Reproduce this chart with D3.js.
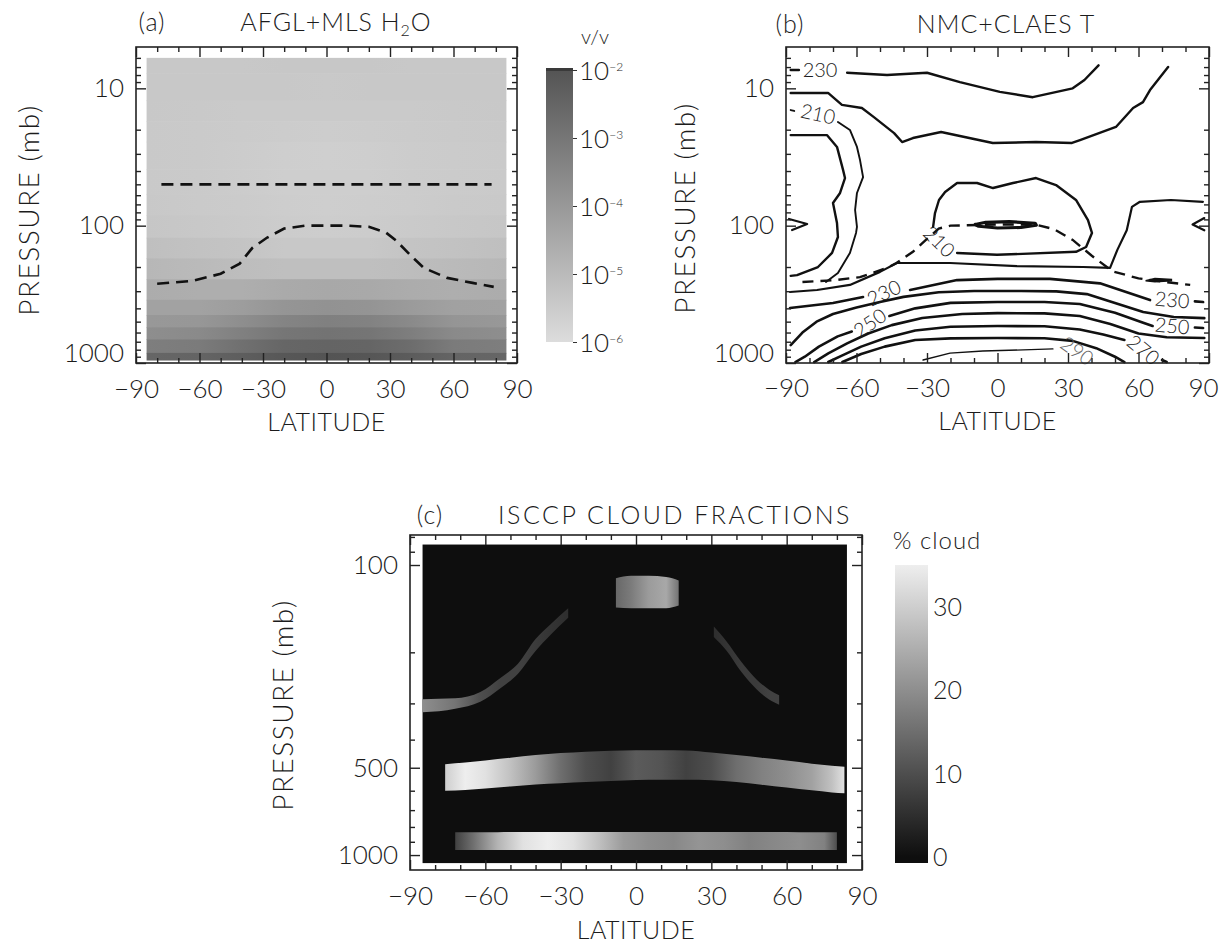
<!DOCTYPE html>
<html><head><meta charset="utf-8">
<script src="https://cdn.jsdelivr.net/npm/d3@7"></script>
<style>
body{margin:0;background:#fff;}
svg text{font-family:Lato,"Open Sans","DejaVu Sans",sans-serif;font-weight:300;fill:#1c1c1c;}
.tick text{font-size:26px;}
.axt{font-size:28px;letter-spacing:1.5px;}
.lat{font-size:25px;letter-spacing:0.5px;}
.ttl{font-size:25px;letter-spacing:1px;}
.cbl{font-size:20px;}
.cbc text{font-size:25px;}
.clab{font-size:20px;}
</style></head><body>
<svg id="fig" width="1222" height="945"></svg>
<script>
// ================= DATA =================
const latTicks = [-90,-60,-30,0,30,60,90];
const latTickLabels = ["\u221290","\u221260","\u221230","0","30","60","90"];
const latMinorTicks = [-80,-70,-50,-40,-20,-10,10,20,40,50,70,80];
const pMajorTop = [10,100,1000];
const pMinorTop = [6,7,8,9,20,30,40,50,60,70,80,90,200,300,400,500,600,700,800,900];
const pMajorBottom = [100,500,1000];
const pMinorBottom = [80,90,200,300,400,600,700,800,900];

// ---- panel (a): H2O mixing ratio, ppmv ----
const h2oLats = [-85,-60,-40,-20,0,20,40,60,85];
const h2oLevels = [6,10,15,20,30,50,70,100,150,200,300,400,500,600,750,950];
const h2oPPMV = [
  [4.0,4.0,4.0,4.2,4.2,4.2,4.0,4.0,4.0],
  [4.0,3.8,3.8,3.8,3.6,3.8,3.8,3.8,4.0],
  [3.8,3.6,3.5,3.4,3.3,3.4,3.5,3.6,3.8],
  [3.6,3.4,3.2,3.0,2.8,2.9,3.2,3.4,3.6],
  [3.6,3.3,3.0,2.6,2.4,2.5,2.9,3.2,3.5],
  [3.6,3.3,3.0,2.6,2.5,2.5,2.9,3.2,3.5],
  [3.8,3.4,3.1,2.8,2.6,2.7,3.0,3.3,3.6],
  [4.5,4.0,3.5,3.0,2.8,2.9,3.4,4.0,4.5],
  [7,6,5,4,3.8,4,5,6,7],
  [12,10,8,7,7,7,8,10,12],
  [25,22,22,30,35,32,25,22,25],
  [50,50,70,120,150,130,80,55,50],
  [100,110,200,400,500,450,250,120,100],
  [200,250,500,1000,1200,1100,600,250,200],
  [600,700,1500,3000,3500,3200,1800,700,600],
  [3000,3500,5000,8000,10000,9000,6000,3500,3000]
];
const h2oColorTicks = [1,10,100,1000,10000];          // ppmv
const h2oColorExp = ["\u22126","\u22125","\u22124","\u22123","\u22122"]; // v/v exponents
const h2oDashed50 = [[-78,50],[78,50]];
const tropopauseA = [[-80,265],[-63,252],[-50,224],[-41,189],[-35,145],[-28,122],[-20,105],[-10,100],[0,100],[10,100],[20,102],[28,112],[33,129],[40,166],[46,203],[57,240],[69,261],[79,279]];

// ---- panel (b): NMC+CLAES temperature contours [lat, p] ----
const tropopauseB = [[-83,257],[-70,250],[-58.5,237],[-47,203],[-43,187],[-36,155],[-30,125],[-25,105],[-20,100],[0,98],[16,98],[24,106],[32,127],[40,165],[49,215],[60,242],[72,258],[82,270]];
const t230top = [[[-88,7.35],[-84.5,7.35]],
  [[-64,7.7],[-47,8.0],[-30,7.7],[-16,9.0],[1,10.6],[15,11.6],[32,10.0],[37,8.7],[43,6.8]]];
const t220top = [[[-88,10.8],[-72.1,10.8],[-66.2,13.2],[-57.7,13.9],[-52.6,16.2],[-44,21.2],[-40.6,24.6],[-36,23],[-24,20.8],[-2,25],[16.4,24.6],[31.7,25],[35.1,23.8],[50.4,19.1],[57.7,13.9],[61.9,12.6],[64.9,10.3],[72.6,7]]];
const t210polar = [[[-88,14.4],[-86.5,14.6]],
  [[-67.9,17.6],[-62.8,20.1],[-59.8,26.7],[-58.5,33.3],[-57.2,44.3],[-59.8,57.8],[-60.6,76.9],[-59.8,102],[-60.2,113],[-62.8,158],[-67.9,221],[-73,257]]];
const t200polar = [[[-88,21.9],[-72.6,21.9],[-68.3,26.7],[-65.7,39.4],[-64.9,45],[-67,57.8],[-70,68.4],[-68.3,95.7],[-67.9,121],[-70.4,158],[-76.4,200],[-85.3,229],[-88,232]]];
const t190edges = [[[-88.7,89.4],[-81,97.3],[-87.4,107.6]],[[88,88],[83,98],[88,108]]];
const t220mid = [[[-88.3,304],[-76.8,294],[-62.8,270],[-50,217],[-42.8,187],[-34.3,187],[-20.2,187],[8.3,197],[36.4,200],[47.9,203],[51,150],[55,108],[57.2,73],[60.6,67],[73.8,65],[87.4,67]]];
const t210trop = [[[-17.2,158],[-0.2,163],[33.4,155],[37.7,143],[40.2,113],[38.5,91],[33.4,65],[24.9,50.6],[16.4,45],[6.6,48.9],[-1.9,53.2],[-8.7,48.9],[-17.2,48.9],[-22.3,56.9],[-24.9,65],[-26.6,80.9],[-27.4,102]]];
const t200trop = [[[-9.5,98],[-5,94.5],[5,93.5],[16,96],[16.5,99],[10,103],[0,104],[-8,101],[-9.5,98]]];
const tBlob = [[63,252],[67,243],[74,246],[74,252],[67,256],[63,252]];
const t230low = [[[-88.3,398],[-70,366],[-57.2,331]],
  [[-37.2,294],[-17.2,249],[0,244],[22.3,244],[43.6,263],[64.9,348]],
  [[84,356],[87.5,360]]];
const t240low = [[[-88,740],[-83,600],[-77,500],[-70,440],[-60,395],[-50,360],[-40,330],[-25,305],[-10,299],[10,299],[25,301],[38,315],[50,365],[62,425],[75,462],[88,471]]];
const t250low = [[[-86,984],[-82,900],[-76,760],[-68,640],[-62,590]],
  [[-46,455],[-35,400],[-20,365],[0,360],[20,360],[35,372],[50,430],[62,510],[66,538]],
  [[84,552],[87.5,556]]];
const t260low = [[[-78,984],[-72,850],[-64,720],[-55,610],[-45,530],[-32,470],[-15,440],[0,433],[20,435],[35,455],[48,520],[60,610],[72,650],[88,658]]];
const t270low = [[[-72,984],[-66,880],[-58,760],[-48,660],[-35,580],[-20,545],[0,538],[20,540],[35,570],[45,620],[54,680]],
  [[70,951],[72,984]]];
const t280low = [[[-66,984],[-58,860],[-48,760],[-35,680],[-20,662],[0,658],[20,660],[32,690],[42,780],[50,900],[54,984]]];
const t290low = [[[-31.7,951],[-20.2,846],[-6.2,818],[23.6,790]]];
const tLabels = [
  {t:"230",lat:-75.5,p:7.35,a:0},
  {t:"210",lat:-76.4,p:15.4,a:12},
  {t:"210",lat:-24.9,p:131,a:45},
  {t:"230",lat:-48.3,p:309,a:-25},
  {t:"250",lat:-54.3,p:512,a:-35},
  {t:"230",lat:74.3,p:348,a:5},
  {t:"250",lat:74.3,p:538,a:5},
  {t:"270",lat:62,p:804,a:40},
  {t:"290",lat:33.8,p:818,a:35}
];

// ---- panel (c): ISCCP cloud fraction bands (%) ----
const cloudBg = 0;
const bandTrop = {lat:[-8,-2,5,12,17], top:[111,109,109,110,113], bot:[140,141,141,141,138], val:[14,17,22,24,16]};
const bandArcS = {lat:[-85,-72,-62,-54,-47,-40,-34,-27], top:[290,288,274,245,219,180,160,141], bot:[322,313,296,266,237,198,174,152], val:[20,16,10,8,8,7,6,5]};
const bandArcN = {lat:[31,36,42,48,53,57], top:[163,183,216,248,269,281], bot:[177,197,234,268,291,303], val:[5,6,7,7,8,8]};
const bandMid = {lat:[-76,-68,-60,-50,-40,-30,-20,-10,0,10,20,30,40,50,60,70,78,83],
  top:[486,480,472,462,452,445,440,437,435,435,436,443,452,462,472,484,492,496],
  bot:[600,597,590,580,571,565,560,555,551,550,550,552,560,572,585,598,608,612],
  val:[30,35,33,28,22,15,10,8,12,11,8,10,15,18,20,23,28,33]};
const bandLow = {lat:[-72,-65,-55,-45,-35,-25,-15,-5,5,15,25,35,45,55,65,75,80],
  top:[835,835,834,833,833,833,833,833,833,833,833,833,833,833,834,835,835],
  bot:[960,960,961,961,961,961,961,961,961,961,961,961,961,961,960,960,960],
  val:[8,15,26,33,35,33,28,22,20,19,21,20,18,19,20,18,10]};
const cloudColorTicks = [0,10,20,30];

// ================= DRAWING =================
const svg = d3.select("#fig");
const defs = svg.append("defs");

const xA = d3.scaleLinear().domain([-90,90]).range([136,517]);
const yA = d3.scaleLog().domain([5,1000]).range([47,363]);
const xB = d3.scaleLinear().domain([-90,90]).range([786,1209]);
const yB = d3.scaleLog().domain([5,1000]).range([47,363]);
const xC = d3.scaleLinear().domain([-90,90]).range([410,862]);
const yC = d3.scaleLog().domain([78.8,1126]).range([535,870]);

const colorA = d3.scaleLog().domain([1,10000]).range(["#dcdcdc","#545454"]).interpolate(d3.interpolateRgb);
const colorC = d3.scaleLinear().domain([0,35]).range(["#0e0e0e","#eeeeee"]);

function frameAxes(x, y, pMaj, pMin, opt){
  const g = svg.append("g").attr("color","#222");
  const [x0,x1] = x.range(), [y0,y1] = y.range();
  const clean = s => { s.select(".domain").remove(); s.attr("font-size",null).attr("font-family",null); s.selectAll("line").attr("stroke-width",1.4); return s; };
  const b = clean(g.append("g").attr("transform",`translate(0,${y1})`)
    .call(d3.axisBottom(x).tickValues(latTicks).tickSize(-10).tickFormat((d,i)=>latTickLabels[i])));
  b.selectAll("text").attr("y",opt.xlabY).attr("dy","0.35em")
    .attr("x", d => (opt.lastLeft && d===90) ? -opt.lastLeft : 0);
  clean(g.append("g").attr("transform",`translate(0,${y1})`).call(d3.axisBottom(x).tickValues(latMinorTicks).tickSize(-5).tickFormat("")));
  clean(g.append("g").attr("transform",`translate(0,${y0})`).call(d3.axisTop(x).tickValues(latTicks).tickSize(-10).tickFormat("")));
  clean(g.append("g").attr("transform",`translate(0,${y0})`).call(d3.axisTop(x).tickValues(latMinorTicks).tickSize(-5).tickFormat("")));
  const l = clean(g.append("g").attr("transform",`translate(${x0},0)`)
    .call(d3.axisLeft(y).tickValues(pMaj).tickSize(-10).tickPadding(12).tickFormat(d3.format("d"))));
  l.selectAll("text").attr("y", d => (opt.lastUp && d===1000) ? -10 : 0);
  clean(g.append("g").attr("transform",`translate(${x0},0)`).call(d3.axisLeft(y).tickValues(pMin).tickSize(-5).tickFormat("")));
  clean(g.append("g").attr("transform",`translate(${x1},0)`).call(d3.axisRight(y).tickValues(pMaj).tickSize(-10).tickFormat("")));
  clean(g.append("g").attr("transform",`translate(${x1},0)`).call(d3.axisRight(y).tickValues(pMin).tickSize(-5).tickFormat("")));
  g.append("rect").attr("x",x0).attr("y",y0).attr("width",x1-x0).attr("height",y1-y0)
    .attr("fill","none").attr("stroke","#222").attr("stroke-width",1.6);
  svg.append("text").attr("class","lat").attr("x",(x0+x1)/2).attr("y",y1+opt.latY)
    .attr("text-anchor","middle").attr("dy","0.35em").text("LATITUDE");
  svg.append("text").attr("class","axt").attr("text-anchor","middle").attr("dy","0.35em")
    .attr("transform",`translate(${opt.presX},${opt.presY}) rotate(-90)`).text("PRESSURE (mb)");
}

function hGrad(id, lats, vals, x, color){
  const g = defs.append("linearGradient").attr("id",id).attr("gradientUnits","userSpaceOnUse")
    .attr("x1",x(lats[0])).attr("x2",x(lats[lats.length-1])).attr("y1",0).attr("y2",0);
  const span = x(lats[lats.length-1]) - x(lats[0]);
  lats.forEach((la,j)=> g.append("stop").attr("offset",(x(la)-x(lats[0]))/span).attr("stop-color",color(vals[j])));
  return `url(#${id})`;
}

// ---------- Panel (a) ----------
const gA = svg.append("g");
h2oLevels.forEach((lev,i)=>{
  const pTop = i===0 ? lev : Math.sqrt(h2oLevels[i-1]*lev);
  const pBot = i===h2oLevels.length-1 ? lev : Math.sqrt(lev*h2oLevels[i+1]);
  gA.append("rect").attr("x",xA(h2oLats[0])).attr("width",xA(h2oLats[h2oLats.length-1])-xA(h2oLats[0]))
    .attr("y",yA(pTop)).attr("height",yA(pBot)-yA(pTop)+0.6)
    .attr("fill",hGrad("h2o"+i,h2oLats,h2oPPMV[i],xA,colorA));
});
const lineA = d3.line().x(d=>xA(d[0])).y(d=>yA(d[1]));
[h2oDashed50, tropopauseA].forEach(d=>{
  gA.append("path").attr("d",lineA(d)).attr("fill","none").attr("stroke","#111")
    .attr("stroke-width",2.6).attr("stroke-dasharray","12,7");
});
frameAxes(xA,yA,pMajorTop,pMinorTop,{xlabY:26,latY:59,presX:29,presY:210,lastUp:true});
svg.append("text").attr("class","ttl").attr("x",152).attr("y",22).attr("text-anchor","middle").attr("dy","0.35em").text("(a)");
const tA = svg.append("text").attr("class","ttl").attr("x",336).attr("y",22).attr("text-anchor","middle").attr("dy","0.35em");
tA.append("tspan").text("AFGL+MLS H");
tA.append("tspan").attr("font-size","16px").attr("dy","0.3em").text("2");
tA.append("tspan").attr("dy","-0.2em").text("O");

// colorbar (a)
const cbA = d3.scaleLog().domain([1,10000]).range([342,70]);
const gradCA = defs.append("linearGradient").attr("id","cbA").attr("x1",0).attr("y1",1).attr("x2",0).attr("y2",0);
h2oColorTicks.forEach(v=> gradCA.append("stop").attr("offset",(cbA(v)-342)/(70-342)).attr("stop-color",colorA(v)));
svg.append("rect").attr("x",546).attr("y",70).attr("width",27).attr("height",272).attr("fill","url(#cbA)");
svg.append("rect").attr("x",546).attr("y",68).attr("width",27).attr("height",3).attr("fill","#3a3a3a");
const axCA = svg.append("g").attr("transform","translate(573,0)").attr("color","#333")
  .call(d3.axisRight(cbA).tickValues(h2oColorTicks).tickSize(4).tickPadding(3).tickFormat(""));
axCA.select(".domain").remove(); axCA.attr("font-size",null).attr("font-family",null);
axCA.selectAll(".tick").each(function(d,i){
  const t = d3.select(this).append("text").attr("class","cbl").attr("x",6).attr("dy","0.35em").attr("text-anchor","start");
  t.append("tspan").text("10");
  t.append("tspan").attr("font-size","12px").attr("dy","-0.75em").text(h2oColorExp[i]);
});
svg.append("text").attr("class","cbl").attr("x",595).attr("y",37).attr("text-anchor","middle").attr("dy","0.35em").text("v/v");

// ---------- Panel (b) ----------
const gB = svg.append("g");
const lineB = d3.line().x(d=>xB(d[0])).y(d=>yB(d[1]));
const contoursB = [
  {segs:t230top,w:2.4},{segs:t220top,w:2.4},{segs:t210polar,w:1.9},{segs:t200polar,w:2.4},
  {segs:t190edges,w:2.2},{segs:t220mid,w:2.2},{segs:t210trop,w:2.4},{segs:t200trop,w:3.2},
  {segs:t230low,w:2.6},{segs:t240low,w:2.6},{segs:t250low,w:2.6},{segs:t260low,w:2.6},
  {segs:t270low,w:2.6},{segs:t280low,w:2.6},{segs:t290low,w:1.3}
];
contoursB.forEach(c=> c.segs.forEach(s=>{
  gB.append("path").attr("d",lineB(s)).attr("fill","none").attr("stroke","#111")
    .attr("stroke-width",c.w).attr("stroke-linejoin","round").attr("stroke-linecap","round");
}));
gB.append("path").attr("d",lineB(tBlob)).attr("fill","#111").attr("stroke","#111").attr("stroke-width",1.5);
gB.append("path").attr("d",lineB(tropopauseB)).attr("fill","none").attr("stroke","#111")
  .attr("stroke-width",2.4).attr("stroke-dasharray","11,7");
tLabels.forEach(l=>{
  gB.append("text").attr("class","clab").attr("text-anchor","middle").attr("dy","0.35em")
    .attr("transform",`translate(${xB(l.lat)},${yB(l.p)}) rotate(${l.a})`)
    .style("fill", l.t==="290" ? "#666" : null).text(l.t);
});
frameAxes(xB,yB,pMajorTop,pMinorTop,{xlabY:25,latY:58,presX:685,presY:208,lastUp:true,lastLeft:6});
svg.append("text").attr("class","ttl").attr("x",790).attr("y",24).attr("text-anchor","middle").attr("dy","0.35em").text("(b)");
svg.append("text").attr("class","ttl").attr("x",1006).attr("y",24).attr("text-anchor","middle").attr("dy","0.35em").text("NMC+CLAES T");

// ---------- Panel (c) ----------
const gC = svg.append("g");
gC.append("rect").attr("x",xC(-85)).attr("y",yC(85)).attr("width",xC(84)-xC(-85)).attr("height",yC(1066)-yC(85))
  .attr("fill",colorC(cloudBg));
const areaC = d3.area().x(d=>xC(d.lat)).y0(d=>yC(d.bot)).y1(d=>yC(d.top)).curve(d3.curveMonotoneX);
[bandTrop,bandArcS,bandArcN,bandMid,bandLow].forEach((b,k)=>{
  const pts = b.lat.map((la,j)=>({lat:la,top:b.top[j],bot:b.bot[j]}));
  gC.append("path").attr("d",areaC(pts)).attr("fill",hGrad("band"+k,b.lat,b.val,xC,colorC));
});
frameAxes(xC,yC,pMajorBottom,pMinorBottom,{xlabY:26,latY:60,presX:283,presY:705,lastUp:false});
svg.append("text").attr("class","ttl").attr("x",430).attr("y",515).attr("text-anchor","middle").attr("dy","0.35em").text("(c)");
svg.append("text").attr("class","ttl").attr("x",675).attr("y",515).attr("text-anchor","middle").attr("dy","0.35em")
  .style("letter-spacing","2.5px").text("ISCCP CLOUD FRACTIONS");

// colorbar (c)
const cbC = d3.scaleLinear().domain([-0.7,35]).range([863,565]);
const gradCC = defs.append("linearGradient").attr("id","cbC").attr("x1",0).attr("y1",1).attr("x2",0).attr("y2",0);
[0,35].forEach(v=> gradCC.append("stop").attr("offset",(cbC(v)-863)/(565-863)).attr("stop-color",colorC(v)));
svg.append("rect").attr("x",895).attr("y",565).attr("width",33).attr("height",298).attr("fill","url(#cbC)");
const axCC = svg.append("g").attr("class","cbc").attr("transform","translate(928,0)")
  .call(d3.axisRight(cbC).tickValues(cloudColorTicks).tickSize(0).tickPadding(5));
axCC.select(".domain").remove(); axCC.attr("font-size",null).attr("font-family",null);
axCC.selectAll("text").attr("dy","0.35em");
svg.append("text").attr("x",937).attr("y",541).attr("text-anchor","middle").attr("dy","0.35em")
  .style("font-size","24px").style("letter-spacing","1px").text("% cloud");
</script>
</body></html>
